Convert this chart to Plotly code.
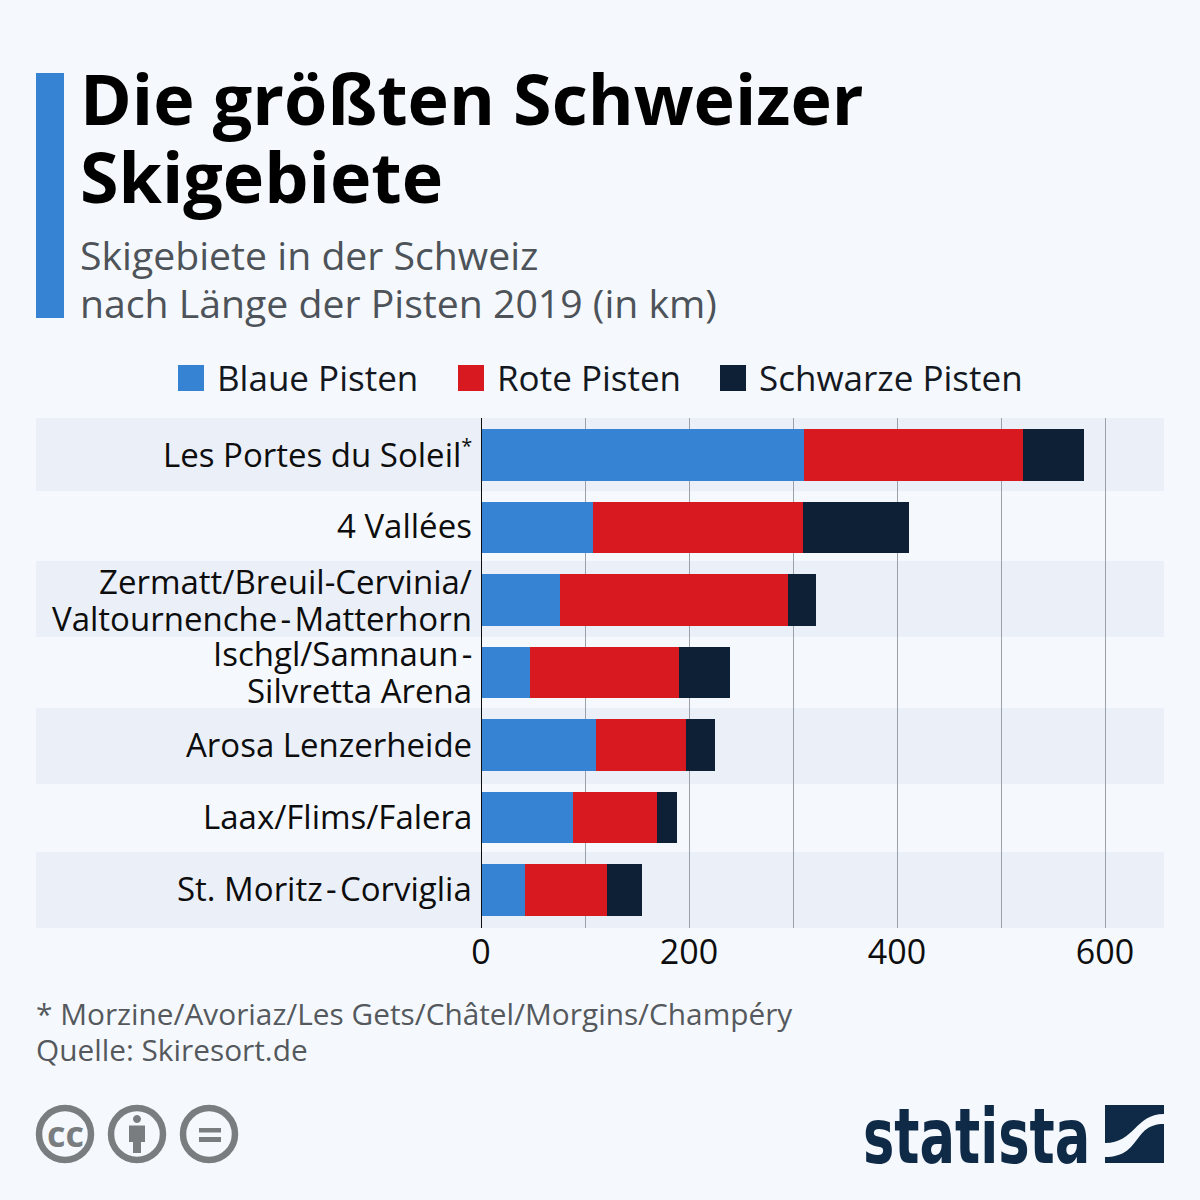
import plotly.graph_objects as go

categories = ["Les Portes du Soleil<sup><span style=\"font-size:20px\">*</span></sup>", "4 Vallées",
              "Zermatt/Breuil-Cervinia/<br>Valtournenche\u200a-\u200aMatterhorn",
              "Ischgl/Samnaun\u200a-<br>Silvretta Arena", "Arosa Lenzerheide", "Laax/Flims/Falera",
              "St. Moritz\u200a-\u200aCorviglia"]
blue = [311, 108, 76, 47, 111, 88, 42]
red = [210, 202, 219, 143, 86, 81, 79]
black = [59, 102, 27, 49, 28, 19, 34]
series_names = ["Blaue Pisten", "Rote Pisten", "Schwarze Pisten"]
series_colors = ["#3783d3", "#d81920", "#0d2035"]
tick_values = [0, 200, 400, 600]

L, R, T, B = 481, 1164, 418, 928
FONT = "Open Sans"
def X(p): return (p - L) / (R - L)
def Y(p): return (B - p) / (B - T)

fig = go.Figure()
for name, vals, col in zip(series_names, [blue, red, black], series_colors):
    fig.add_trace(go.Bar(y=categories, x=vals, name=name, orientation="h", showlegend=False,
                         marker=dict(color=col, line_width=0), width=0.715))

shapes = []
def rect(x0, y0, x1, y1, col, layer="above"):
    shapes.append(dict(type="rect", xref="paper", yref="paper", x0=X(x0), x1=X(x1), y0=Y(y0), y1=Y(y1),
                       fillcolor=col, line_width=0, layer=layer))
def circ(cx, cy, r, col, w=6.5, fill="rgba(0,0,0,0)"):
    shapes.append(dict(type="circle", xref="paper", yref="paper", x0=X(cx-r), x1=X(cx+r), y0=Y(cy+r), y1=Y(cy-r),
                       line=dict(color=col, width=w), fillcolor=fill, layer="above"))

for y0, y1 in [(418, 491), (561, 637), (708, 784), (852, 928)]:
    rect(36, y0, 1164, y1, "#ebf0f8", "below")
rect(36, 73, 64, 318, "#3783d3")
shapes.append(dict(type="line", xref="x", yref="paper", x0=0, x1=0, y0=0, y1=1,
                   line=dict(color="#0d0d0d", width=2), layer="above"))

GREY = "#7a7d80"
for cx in (65, 137, 209):
    circ(cx, 1134, 26, GREY)
circ(137, 1119, 3.5, GREY, 1, GREY)
rect(129, 1125.5, 145, 1142, GREY)
rect(133, 1142, 141, 1153, GREY)
rect(199, 1128, 221, 1132.5, GREY)
rect(199, 1137, 221, 1142, GREY)

NAVY = "#0f2a47"
def path(pts):
    s = ""
    for cmd, *c in pts:
        s += cmd + " ".join(f"{X(c[i]):.5f},{Y(c[i+1]):.5f}" for i in range(0, len(c), 2)) + " "
    return s + "Z"
shapes.append(dict(type="path", xref="paper", yref="paper", fillcolor=NAVY, line_width=0, layer="above",
    path=path([("M", 1105, 1105), ("L", 1164, 1105), ("L", 1164, 1114),
               ("C", 1135, 1114, 1135, 1143, 1105, 1143)])))
shapes.append(dict(type="path", xref="paper", yref="paper", fillcolor=NAVY, line_width=0, layer="above",
    path=path([("M", 1164, 1124), ("L", 1164, 1163), ("L", 1105, 1163), ("L", 1105, 1157),
               ("C", 1142, 1157, 1132, 1124, 1164, 1124)])))

ann = []
def text(x, y, s, size, col, bold=False, fam=FONT, anchor="left"):
    ann.append(dict(xref="paper", yref="paper", x=X(x), y=Y(y), text=f"<b>{s}</b>" if bold else s,
                    showarrow=False, xanchor=anchor, yanchor="middle",
                    font=dict(family=fam, size=size, color=col), borderpad=0, borderwidth=0))

text(80, 98, "Die größten Schweizer", 70, "#000000", True)
text(80, 176, "Skigebiete", 70, "#000000", True)
text(80, 254.5, "Skigebiete in der Schweiz", 39.2, "#4d5359")
text(80, 303, "nach Länge der Pisten 2019 (in km)", 39.2, "#4d5359")
text(36, 1013, "* Morzine/Avoriaz/Les Gets/Châtel/Morgins/Champéry", 29.8, "#55595e")
text(36, 1049, "Quelle: Skiresort.de", 29.8, "#55595e")
text(65, 1133, "cc", 36, GREY, True, anchor="center")
text(976.5, 1136, "statista", 76, NAVY, True, "DejaVu Sans Condensed", "center")

for name, col, sx in zip(series_names, series_colors, (178, 458, 720)):
    rect(sx, 365, sx + 26, 391, col)
    text(sx + 39, 377, name, 35, "#14181f")

row_nudge = {0: 0, 1: 2, 2: 0, 3: 0, 4: 1, 5: 1, 6: 2}
for i, cat in enumerate(categories):
    parts = cat.split("<br>")
    for j, part in enumerate(parts):
        ann.append(dict(xref="paper", yref="y", x=X(473.5), y=i,
                        yshift=row_nudge[i] - (j - (len(parts) - 1) / 2) * 37,
                        text=part, showarrow=False, xanchor="right", yanchor="middle",
                        font=dict(family=FONT, size=33, color="#0d0d0d")))

fig.update_layout(
    width=1200, height=1200, autosize=False,
    margin=dict(l=L, r=1200 - R, t=T, b=1200 - B, pad=0),
    paper_bgcolor="#f5f9fd", plot_bgcolor="rgba(0,0,0,0)",
    barmode="stack", shapes=shapes, annotations=ann, showlegend=False,
    font=dict(family=FONT, color="#0d0d0d"),
    xaxis=dict(range=[0, (R - L) / 1.04], tickvals=tick_values, tickfont=dict(size=34, color="#0d0d0d"),
               showgrid=True, gridcolor="#9aa1a8", gridwidth=1, zeroline=False, ticks="", showline=False,
               ticklabelstandoff=1,
               minor=dict(dtick=100, tick0=0, showgrid=True, gridcolor="#9aa1a8", gridwidth=1, ticks="")),
    yaxis=dict(categoryorder="array", categoryarray=categories, range=[6.524, -0.51],
               showticklabels=False, showgrid=False, zeroline=False, showline=False, ticks=""),
)
post = """
document.body.style.margin='0';
document.querySelectorAll('text.annotation-text').forEach(function(t){
  if (t.textContent === 'statista') {
    t.style.transformBox = 'fill-box';
    t.style.transformOrigin = 'center';
    t.style.transform = 'scaleX(0.77)';
  }
});
"""
fig.write_html("out.html", config=dict(displayModeBar=False), post_script=post)
